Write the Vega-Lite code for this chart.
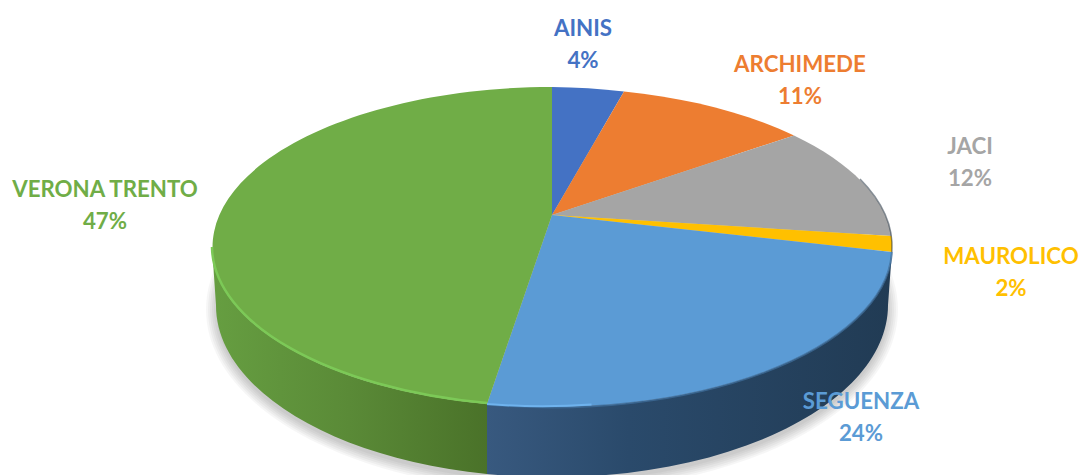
{
"$schema":"https://vega.github.io/schema/vega-lite/v6.json",
"width":1083,"height":475,
"autosize":{"type":"none"},
"padding":0,
"background":"white",
"config":{"view":{"stroke":null},"text":{"font":"Lato"}},
"datasets":{
"slices":[
{"category":"AINIS","percent":0.04},
{"category":"ARCHIMEDE","percent":0.11},
{"category":"JACI","percent":0.12},
{"category":"MAUROLICO","percent":0.02},
{"category":"SEGUENZA","percent":0.24},
{"category":"VERONA TRENTO","percent":0.47}],
"shadow":[{"ring":"a"},{"ring":"b"},{"ring":"c"},{"ring":"d"},{"ring":"e"},{"ring":"f"}]
},
"resolve":{"scale":{"shape":"independent"}},
"layer":[
{"data":{"name":"shadow"},
"mark":{"type":"point","filled":true,"size":4,"color":"#000000","opacity":0.035,"strokeWidth":0},
"encoding":{"shape":{"field":"ring","type":"nominal","legend":null,"scale":{"domain":["a","b","c","d","e","f"],"range":[
"M-335.5,72A346,182 0 1 1 356.5,72A346,182 0 1 1 -335.5,72Z",
"M-333.5,72A344,180 0 1 1 354.5,72A344,180 0 1 1 -333.5,72Z",
"M-331.5,72A342,178 0 1 1 352.5,72A342,178 0 1 1 -331.5,72Z",
"M-329.5,72A340,176 0 1 1 350.5,72A340,176 0 1 1 -329.5,72Z",
"M-327.5,72A338,174 0 1 1 348.5,72A338,174 0 1 1 -327.5,72Z",
"M-325.5,72A336,172 0 1 1 346.5,72A336,172 0 1 1 -325.5,72Z"]}}}},
{"data":{"name":"slices"},
"transform":[{"filter":"datum.category==='VERONA TRENTO'"}],
"mark":{"type":"point","filled":true,"size":4,"opacity":1,"strokeWidth":0,
"shape":"M-329.5,9.5A340,160 0 0 0 -54.5,166.5L-54.5,236.5A336,172 0 0 1 -325.5,67.5Z",
"fill":{"gradient":"linear","x1":0,"y1":0,"x2":1,"y2":0,"stops":[{"offset":0,"color":"#669E41"},{"offset":0.5,"color":"#5A8A37"},{"offset":1,"color":"#4A7229"}]}},
"encoding":{}},
{"data":{"name":"slices"},
"transform":[{"filter":"datum.category==='SEGUENZA'"}],
"mark":{"type":"point","filled":true,"size":4,"opacity":1,"strokeWidth":0,
"shape":"M-54.5,166.5A340,160 0 0 0 350.4,14.5L346.5,67.5A336,172 0 0 1 -54.5,236.5Z",
"fill":{"gradient":"linear","x1":0,"y1":0,"x2":1,"y2":0,"stops":[{"offset":0,"color":"#38597F"},{"offset":0.35,"color":"#2A4A6B"},{"offset":1,"color":"#213B54"}]}},
"encoding":{}},
{"data":{"name":"slices"},
"mark":{"type":"point","filled":true,"size":4,"opacity":1,"strokeWidth":0},
"encoding":{
"shape":{"field":"category","type":"nominal","legend":null,"scale":{"domain":["AINIS","ARCHIMEDE","JACI","MAUROLICO","SEGUENZA","VERONA TRENTO"],"range":[
"M10.5,-22.5L10.5,-150.5A340,160 0 0 1 82.5,-146Z",
"M10.5,-22.5L82.5,-146A340,160 0 0 1 252.5,-102Z",
"M10.5,-22.5L252.5,-102A340,160 0 0 1 350,-1.5Z",
"M10.5,-22.5L350,-1.5A340,160 0 0 1 350.4,14.5Z",
"M10.5,-22.5L350.4,14.5A340,160 0 0 1 -54.5,166.5Z",
"M10.5,-22.5L-54.5,166.5A340,160 0 0 1 10.5,-150.5Z"]}},
"color":{"field":"category","type":"nominal","legend":null,"scale":{"domain":["AINIS","ARCHIMEDE","JACI","MAUROLICO","SEGUENZA","VERONA TRENTO"],"range":["#4472C4","#ED7D31","#A5A5A5","#FFC000","#5B9BD5","#70AD47"]}}}},
{"data":{"name":"slices"},
"transform":[{"filter":"datum.category==='VERONA TRENTO'"}],
"mark":{"type":"point","filled":false,"size":4,"opacity":1,"stroke":"#7CC957","strokeWidth":2.5,
"shape":"M-329.5,9.5A340,160 0 0 0 -54.5,165.5"},"encoding":{}},
{"data":{"name":"slices"},
"transform":[{"filter":"datum.category==='SEGUENZA'"}],
"mark":{"type":"point","filled":false,"size":4,"opacity":0.75,"stroke":"#3F6E9B","strokeWidth":2,
"shape":"M-54.5,167A340,160 0 0 0 350.4,14.5"},"encoding":{}},
{"data":{"name":"slices"},
"transform":[{"filter":"datum.category==='SEGUENZA'"}],
"mark":{"type":"point","filled":false,"size":4,"opacity":1,"stroke":"#6FB3EE","strokeWidth":2,
"shape":"M-54.5,166.5A340,160 0 0 0 50,167"},"encoding":{}},
{"data":{"name":"slices"},
"transform":[{"filter":"datum.category==='JACI'"}],
"mark":{"type":"point","filled":false,"size":4,"opacity":0.55,"stroke":"#2B3A48","strokeWidth":1.5,
"shape":"M318.5,-58.5A340,160 0 0 1 350.4,14.5"},"encoding":{}},
{"data":{"name":"slices"},"transform":[{"filter":"datum.category==='AINIS'"},{"calculate":"datum.category+'\\n'+format(datum.percent,'.0%')","as":"label"}],
"mark":{"type":"text","fontSize":22.3,"fontWeight":"bold","align":"center","baseline":"middle","lineBreak":"\n","lineHeight":32,"dx":41.5,"dy":-209},
"encoding":{"text":{"field":"label"},"color":{"field":"category","type":"nominal","legend":null}}},
{"data":{"name":"slices"},"transform":[{"filter":"datum.category==='ARCHIMEDE'"},{"calculate":"datum.category+'\\n'+format(datum.percent,'.0%')","as":"label"}],
"mark":{"type":"text","fontSize":22.3,"fontWeight":"bold","align":"center","baseline":"middle","lineBreak":"\n","lineHeight":32,"dx":258.5,"dy":-173},
"encoding":{"text":{"field":"label"},"color":{"field":"category","type":"nominal","legend":null}}},
{"data":{"name":"slices"},"transform":[{"filter":"datum.category==='JACI'"},{"calculate":"datum.category+'\\n'+format(datum.percent,'.0%')","as":"label"}],
"mark":{"type":"text","fontSize":22.3,"fontWeight":"bold","align":"center","baseline":"middle","lineBreak":"\n","lineHeight":32,"dx":428.5,"dy":-91},
"encoding":{"text":{"field":"label"},"color":{"field":"category","type":"nominal","legend":null}}},
{"data":{"name":"slices"},"transform":[{"filter":"datum.category==='MAUROLICO'"},{"calculate":"datum.category+'\\n'+format(datum.percent,'.0%')","as":"label"}],
"mark":{"type":"text","fontSize":22.3,"fontWeight":"bold","align":"center","baseline":"middle","lineBreak":"\n","lineHeight":32,"dx":469.5,"dy":19},
"encoding":{"text":{"field":"label"},"color":{"field":"category","type":"nominal","legend":null}}},
{"data":{"name":"slices"},"transform":[{"filter":"datum.category==='SEGUENZA'"},{"calculate":"datum.category+'\\n'+format(datum.percent,'.0%')","as":"label"}],
"mark":{"type":"text","fontSize":22.3,"fontWeight":"bold","align":"center","baseline":"middle","lineBreak":"\n","lineHeight":32,"dx":319.5,"dy":164},
"encoding":{"text":{"field":"label"},"color":{"field":"category","type":"nominal","legend":null}}},
{"data":{"name":"slices"},"transform":[{"filter":"datum.category==='VERONA TRENTO'"},{"calculate":"datum.category+'\\n'+format(datum.percent,'.0%')","as":"label"}],
"mark":{"type":"text","fontSize":22.3,"fontWeight":"bold","align":"center","baseline":"middle","lineBreak":"\n","lineHeight":32,"dx":-436.5,"dy":-48},
"encoding":{"text":{"field":"label"},"color":{"field":"category","type":"nominal","legend":null}}}
]
}
